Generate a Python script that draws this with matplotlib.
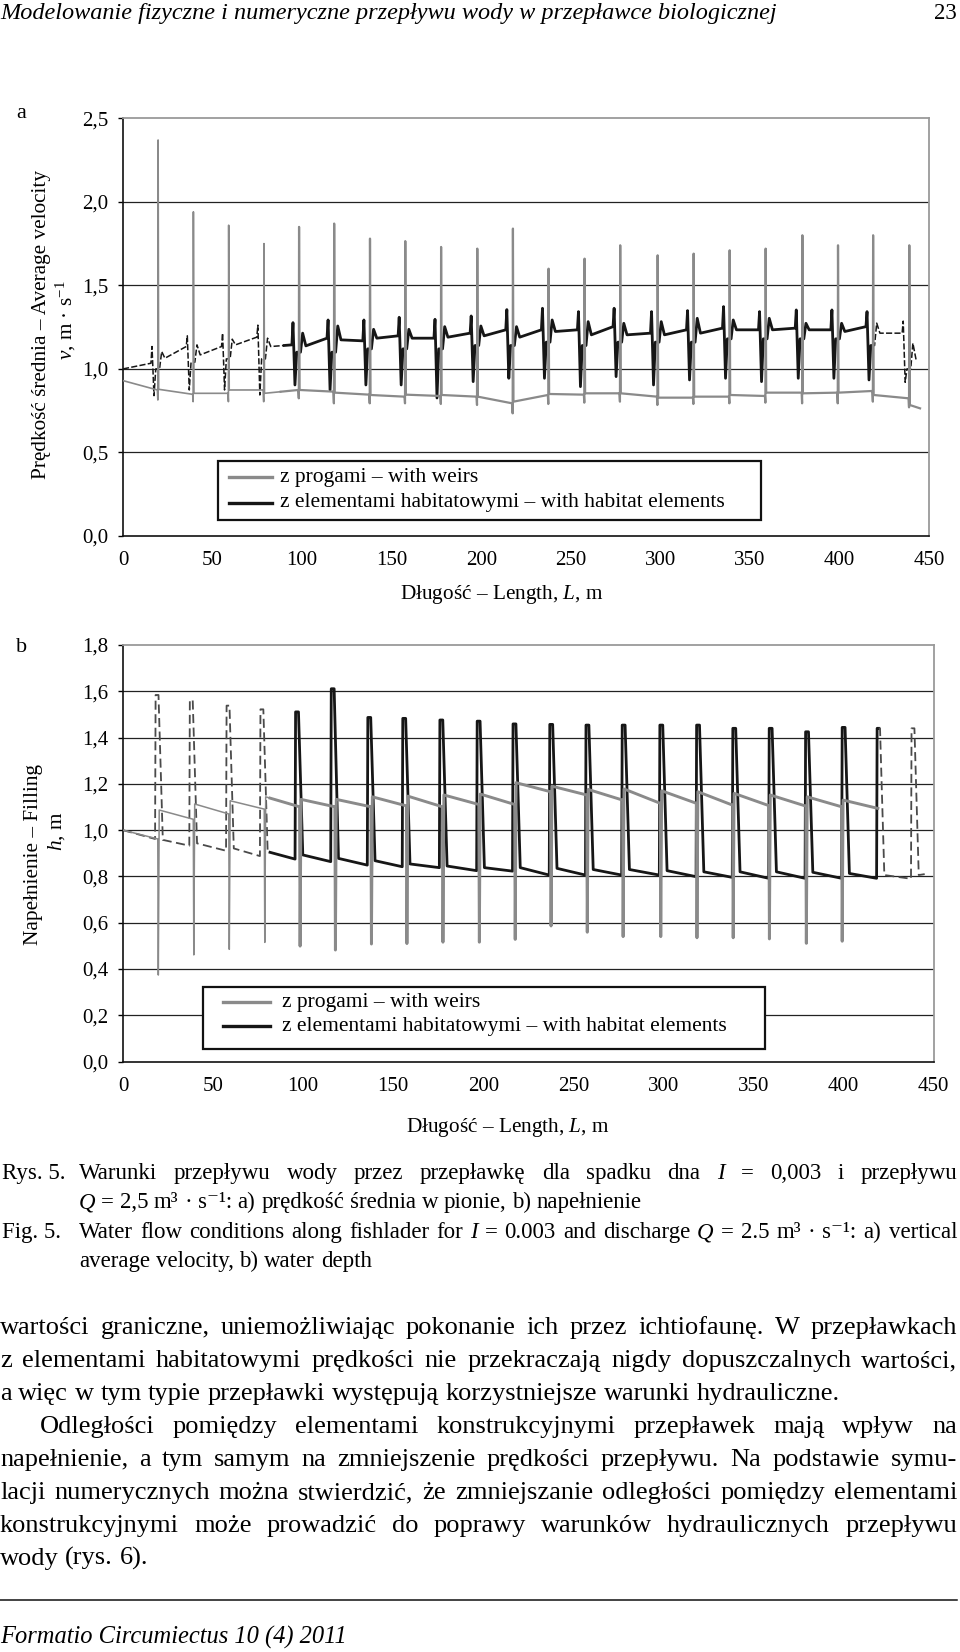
import numpy as np
import matplotlib
matplotlib.use("Agg")
import matplotlib.pyplot as plt
from matplotlib.patches import Rectangle
from matplotlib.lines import Line2D

# ---- data ----
# weir positions along the fishladder, m
weir_L = [19.6, 39.3, 59.0, 78.7, 98.3, 117.9, 137.9, 157.6, 177.6, 197.8, 217.7,
          237.6, 257.7, 277.6, 298.5, 318.6, 338.7, 358.8, 379.3, 399.2, 418.8, 439.0]

# (a) velocity, "z progami" (grey)
va_gray_start = 0.93
va_gray_pre = [0.874, 0.848, 0.854, 0.874, 0.874, 0.864, 0.846, 0.834, 0.838, 0.834, 0.794,
               0.844, 0.846, 0.854, 0.834, 0.828, 0.834, 0.838, 0.858, 0.858, 0.868, 0.824]
va_gray_min = [0.814, 0.804, 0.804, 0.804, 0.824, 0.794, 0.794, 0.794, 0.790, 0.784, 0.734,
               0.790, 0.798, 0.804, 0.784, 0.790, 0.794, 0.798, 0.794, 0.794, 0.804, 0.770]
va_gray_peak = [2.37, 1.94, 1.86, 1.75, 1.85, 1.87, 1.78, 1.765, 1.73, 1.72, 1.84,
                1.60, 1.66, 1.74, 1.68, 1.69, 1.71, 1.72, 1.80, 1.74, 1.80, 1.74]
va_gray_post = [0.878, 0.854, 0.874, 0.854, 0.874, 0.858, 0.844, 0.846, 0.844, 0.834, 0.804,
                0.850, 0.854, 0.854, 0.828, 0.834, 0.844, 0.858, 0.854, 0.858, 0.844, 0.784]
va_gray_end = (445.0, 0.764)

# (a) velocity, "z elementami habitatowymi" (black)
va_black_start = 1.0
va_black_pre = [1.034, 1.134, 1.134, 1.190, 1.144, 1.184, 1.168, 1.198, 1.184, 1.214, 1.234,
                1.234, 1.234, 1.253, 1.214, 1.234, 1.244, 1.234, 1.244, 1.234, 1.253, 1.214]
va_black_peak = [1.134, 1.198, 1.214, 1.262, 1.277, 1.293, 1.293, 1.309, 1.297, 1.317, 1.355,
                 1.363, 1.343, 1.363, 1.343, 1.349, 1.373, 1.343, 1.353, 1.353, 1.343, 1.286]
va_black_trough = [0.84, 0.874, 0.874, 0.844, 0.904, 0.874, 0.904, 0.904, 0.826, 0.924, 0.944,
                   0.944, 0.894, 0.954, 0.904, 0.934, 0.944, 0.924, 0.944, 0.944, 0.934, 0.92]
va_black_rec = [1.00, 1.04, 1.06, 1.06, 1.10, 1.10, 1.12, 1.12, 1.12, 1.14, 1.14,
                1.16, 1.14, 1.16, 1.16, 1.16, 1.18, 1.18, 1.18, 1.18, 1.14, 1.00]
va_black_bump = [1.104, 1.144, 1.178, 1.184, 1.214, 1.257, 1.237, 1.237, 1.253, 1.257, 1.253,
                 1.293, 1.283, 1.273, 1.283, 1.303, 1.293, 1.303, 1.273, 1.273, 1.274, 1.154]
va_black_post = [1.064, 1.084, 1.144, 1.134, 1.138, 1.174, 1.184, 1.184, 1.190, 1.198, 1.190,
                 1.224, 1.204, 1.204, 1.204, 1.214, 1.234, 1.234, 1.234, 1.224, 1.214, 1.054]

# (b) depth, "z progami" (grey) - spikes at the first 20 weirs
hb_gray_start = 1.0
hb_gray_pre = [0.962, 1.047, 1.070, 1.091, 1.101, 1.101, 1.101, 1.105, 1.101, 1.111,
               1.111, 1.166, 1.152, 1.130, 1.116, 1.116, 1.108, 1.106, 1.104, 1.101]
hb_gray_min = [0.374, 0.461, 0.485, 0.515, 0.499, 0.482, 0.508, 0.510, 0.516, 0.516,
               0.528, 0.586, 0.559, 0.540, 0.540, 0.535, 0.535, 0.530, 0.511, 0.520]
hb_gray_post = [1.087, 1.113, 1.127, 1.144, 1.133, 1.133, 1.144, 1.147, 1.152, 1.156,
                1.205, 1.190, 1.176, 1.178, 1.170, 1.166, 1.159, 1.152, 1.144, 1.130]
hb_gray_end = (419.0, 1.094)

# (b) depth, "z elementami habitatowymi" (black)
hb_black_start = 1.0
hb_black_rise = [17.8, 36.8, 57.2, 76.0, 95.5, 115.3, 135.6, 155.0, 175.6, 196.3, 216.2,
                 236.6, 256.7, 276.8, 297.7, 318.1, 338.2, 358.4, 378.6, 398.9, 418.3, 437.4]
hb_black_pre = [0.962, 0.933, 0.911, 0.888, 0.875, 0.864, 0.849, 0.842, 0.838, 0.825, 0.823,
                0.806, 0.806, 0.806, 0.806, 0.799, 0.796, 0.792, 0.792, 0.792, 0.792, 0.790]
hb_black_peak = [1.584, 1.562, 1.538, 1.522, 1.511, 1.611, 1.487, 1.483, 1.476, 1.471, 1.459,
                 1.457, 1.454, 1.454, 1.454, 1.454, 1.440, 1.440, 1.425, 1.444, 1.440, 1.440]
hb_black_post = [0.958, 0.943, 0.921, 0.907, 0.893, 0.878, 0.868, 0.854, 0.845, 0.838, 0.838,
                 0.835, 0.830, 0.830, 0.825, 0.820, 0.820, 0.820, 0.818, 0.813, 0.806, 0.806]
hb_black_end = (445.0, 0.81)

x_ticks = [0, 50, 100, 150, 200, 250, 300, 350, 400, 450]
x_tick_labels = ['0', '50', '100', '150', '200', '250', '300', '350', '400', '450']
ya_ticks = [0, 0.5, 1.0, 1.5, 2.0, 2.5]
ya_tick_labels = ['0,0', '0,5', '1,0', '1,5', '2,0', '2,5']
yb_ticks = [0, 0.2, 0.4, 0.6, 0.8, 1.0, 1.2, 1.4, 1.6, 1.8]
yb_tick_labels = ['0,0', '0,2', '0,4', '0,6', '0,8', '1,0', '1,2', '1,4', '1,6', '1,8']

legend_labels = ['z progami – with weirs', 'z elementami habitatowymi – with habitat elements']

header = 'Modelowanie fizyczne i numeryczne przepływu wody w przepławce biologicznej'
page_no = '23'
footer = 'Formatio Circumiectus 10 (4) 2011'
caption = [
    ('Warunki przepływu wody przez przepławkę dla spadku dna *I* = 0,003 i przepływu', True),
    ('*Q* = 2,5 m³ · s⁻¹: a) prędkość średnia w pionie, b) napełnienie', False),
    ('Water flow conditions along fishlader for *I* = 0.003 and discharge *Q* = 2.5 m³ · s⁻¹: a) vertical', True),
    ('average velocity, b) water depth', False),
]
body = [
    ('wartości graniczne, uniemożliwiając pokonanie ich przez ichtiofaunę. W przepławkach', True, 0),
    ('z elementami habitatowymi prędkości nie przekraczają nigdy dopuszczalnych wartości,', True, 0),
    ('a więc w tym typie przepławki występują korzystniejsze warunki hydrauliczne.', False, 0),
    ('Odległości pomiędzy elementami konstrukcyjnymi przepławek mają wpływ na', True, 40),
    ('napełnienie, a tym samym na zmniejszenie prędkości przepływu. Na podstawie symu-', True, 0),
    ('lacji numerycznych można stwierdzić, że zmniejszanie odległości pomiędzy elementami', True, 0),
    ('konstrukcyjnymi może prowadzić do poprawy warunków hydraulicznych przepływu', True, 0),
    ('wody (rys. 6).', False, 0),
]

# ---- build the polylines ----
gray_a_L, gray_a_v = [0.0], [va_gray_start]
for w, pre, mn, pk, post in zip(weir_L, va_gray_pre, va_gray_min, va_gray_peak, va_gray_post):
    gray_a_L += [w - 0.4, w - 0.15, w, w + 0.3]
    gray_a_v += [pre, mn, pk, post]
gray_a_L.append(va_gray_end[0]); gray_a_v.append(va_gray_end[1])

black_a_L, black_a_v = [0.0], [va_black_start]
for i, w in enumerate(weir_L):
    black_a_L += [w - 4.0, w - 3.4, w - 2.3, w - 1.3, w + 0.8, w + 2.0, w + 3.8]
    black_a_v += [va_black_pre[i], va_black_peak[i], va_black_trough[i], va_black_rec[i],
                  va_black_rec[i], va_black_bump[i], va_black_post[i]]

gray_b_L, gray_b_v = [0.0], [hb_gray_start]
for w, pre, mn, post in zip(weir_L, hb_gray_pre, hb_gray_min, hb_gray_post):
    gray_b_L += [w - 0.3, w, w + 0.5]
    gray_b_v += [pre, mn, post]
gray_b_L.append(hb_gray_end[0]); gray_b_v.append(hb_gray_end[1])

black_b_L, black_b_v = [0.0], [hb_black_start]
for r, pre, pk, post in zip(hb_black_rise, hb_black_pre, hb_black_peak, hb_black_post):
    black_b_L += [r, r + 0.3, r + 1.9, r + 4.3]
    black_b_v += [pre, pk, pk, post]
black_b_L.append(hb_black_end[0]); black_b_v.append(hb_black_end[1])


def piece(L, v, lo, hi):
    # part of a polyline between two positions along the channel
    L = np.asarray(L); v = np.asarray(v)
    lo = max(lo, L[0]); hi = min(hi, L[-1])
    m = (L > lo) & (L < hi)
    xs = np.concatenate([[lo], L[m], [hi]])
    ys = np.concatenate([[np.interp(lo, L, v)], v[m], [np.interp(hi, L, v)]])
    return xs, ys


# ---- figure ----
plt.rcParams['font.family'] = ['Liberation Serif', 'DejaVu Serif']
plt.rcParams['mathtext.fontset'] = 'custom'
plt.rcParams['mathtext.rm'] = 'Liberation Serif'
plt.rcParams['mathtext.it'] = 'Liberation Serif:italic'

W, H = 960, 1652
fig = plt.figure(figsize=(9.6, 16.52), dpi=100, facecolor='white')
renderer = fig.canvas.get_renderer()

GRAY = '#8a8a8a'
BLACK = '#161616'
TICK_SIZE = 15
LABEL_SIZE = 15.3


def fx(x):
    return x / W


def fy(y):
    return 1 - y / H


def setup_axes(ax, yticks, ylabels):
    ax.set_xlim(0, 450)
    ax.set_ylim(yticks[0], yticks[-1])
    ax.set_xticks(x_ticks)
    ax.set_xticklabels(x_tick_labels)
    ax.set_yticks(yticks)
    ax.set_yticklabels(ylabels)
    ax.tick_params(axis='x', length=0, pad=11, labelsize=TICK_SIZE)
    ax.tick_params(axis='y', length=3.6, width=1.0, direction='out', pad=7, labelsize=TICK_SIZE)
    for y in yticks[1:-1]:
        ax.axhline(y, color='#222222', lw=0.9, zorder=1)
    for s in ['left', 'bottom']:
        ax.spines[s].set_color('#111111')
        ax.spines[s].set_linewidth(1.2)
    for s in ['top', 'right']:
        ax.spines[s].set_color('#9a9a9a')
        ax.spines[s].set_linewidth(1.3)


ax_a = fig.add_axes([fx(123), fy(536), (929 - 123) / W, (536 - 118.3) / H])
setup_axes(ax_a, ya_ticks, ya_tick_labels)

# black (habitat elements): dashed - solid - dashed
xs, ys = piece(black_a_L, black_a_v, 0, 90)
ax_a.plot(xs, ys, color=BLACK, lw=1.1, ls=(0, (4, 1.5)), zorder=3)
xs, ys = piece(black_a_L, black_a_v, 90, 418)
ax_a.plot(xs, ys, color=BLACK, lw=2.0, zorder=3)
xs, ys = piece(black_a_L, black_a_v, 418, 500)
ax_a.plot(xs, ys, color=BLACK, lw=1.1, ls=(0, (4, 1.5)), zorder=3)
# grey (weirs)
xs, ys = piece(gray_a_L, gray_a_v, 0, 88)
ax_a.plot(xs, ys, color=GRAY, lw=1.2, zorder=4)
xs, ys = piece(gray_a_L, gray_a_v, 88, 500)
ax_a.plot(xs, ys, color=GRAY, lw=1.6, zorder=4)

ax_b = fig.add_axes([fx(123), fy(1061.6), (933.7 - 123) / W, (1061.6 - 645) / H])
setup_axes(ax_b, yb_ticks, yb_tick_labels)

xs, ys = piece(black_b_L, black_b_v, 0, 81.6)
ax_b.plot(xs, ys, color='#4a4a4a', lw=1.3, ls=(0, (5, 2.5)), zorder=3)
xs, ys = piece(black_b_L, black_b_v, 81.6, 419.5)
ax_b.plot(xs, ys, color=BLACK, lw=2.0, zorder=3)
xs, ys = piece(black_b_L, black_b_v, 419.5, 500)
ax_b.plot(xs, ys, color='#4a4a4a', lw=1.3, ls=(0, (5, 2.5)), zorder=3)
xs, ys = piece(gray_b_L, gray_b_v, 0, 81.6)
ax_b.plot(xs, ys, color=GRAY, lw=1.1, zorder=4)
xs, ys = piece(gray_b_L, gray_b_v, 81.6, 500)
ax_b.plot(xs, ys, color=GRAY, lw=2.1, zorder=4)


# ---- legends (boxes inside the plots) ----
def legend(x0, y0, x1, y1, lx0, lx1, ys, tx):
    fig.add_artist(Rectangle((fx(x0), fy(y1)), (x1 - x0) / W, (y1 - y0) / H,
                             transform=fig.transFigure, facecolor='white',
                             edgecolor='#111111', lw=1.6, zorder=5))
    for yy, col, lab in zip(ys, [GRAY, BLACK], legend_labels):
        fig.add_artist(Line2D([fx(lx0), fx(lx1)], [fy(yy), fy(yy)], transform=fig.transFigure,
                              color=col, lw=2.4, zorder=6))
        fig.text(fx(tx), fy(yy), lab, fontsize=15.5, ha='left', va='center', zorder=7)


legend(218, 460.5, 761, 519.5, 229, 272, [477.4, 502.7], 280)
legend(203.3, 987.3, 765, 1048.5, 223.4, 269.8, [1002.2, 1026.4], 282)

# ---- axis titles ----
fig.text(fx(501.6), fy(594.3), 'Długość – Length, $\\mathit{L}$, m', fontsize=LABEL_SIZE, ha='center', va='center')
fig.text(fx(508), fy(1127.6), 'Długość – Length, $\\mathit{L}$, m', fontsize=LABEL_SIZE, ha='center', va='center')
fig.text(fx(42), fy(324.6), 'Prędkość średnia – Average velocity', fontsize=LABEL_SIZE, rotation=90,
         ha='center', va='center')
fig.text(fx(66), fy(320), '$\\mathit{v}$, m · s$^{-1}$', fontsize=LABEL_SIZE, rotation=90, ha='center', va='center')
fig.text(fx(34), fy(854.6), 'Napełnienie – Filling', fontsize=LABEL_SIZE, rotation=90, ha='center', va='center')
fig.text(fx(57), fy(831.5), '$\\mathit{h}$, m', fontsize=LABEL_SIZE, rotation=90, ha='center', va='center')
fig.text(fx(21.5), fy(114), 'a', fontsize=16, ha='center', va='center')
fig.text(fx(21.5), fy(647), 'b', fontsize=16, ha='center', va='center')


# ---- page text ----
def word_width(word, size, style):
    t = fig.text(0, 0, word, fontsize=size, style=style)
    w = t.get_window_extent(renderer).width
    t.remove()
    return w


def put_line(text, y, x0, x1=None, size=16.5, base_style='normal'):
    items = []
    for wd in text.split(' '):
        style = base_style
        if len(wd) > 2 and wd.startswith('*') and wd.endswith('*'):
            wd, style = wd[1:-1], 'italic'
        items.append((wd, style, word_width(wd, size, style)))
    total = sum(i[2] for i in items)
    if x1 is None or len(items) < 2:
        gap = 0.25 * size * 100 / 72
    else:
        gap = (x1 - x0 - total) / (len(items) - 1)
    x = x0
    for wd, style, w in items:
        fig.text(fx(x), fy(y), wd, fontsize=size, style=style, ha='left', va='baseline')
        x += w + gap


hdr_w = word_width(header, 16, 'italic')
hdr_size = 16 * 776 / hdr_w
fig.text(fx(0), fy(19), header, fontsize=hdr_size, style='italic', ha='left', va='baseline')
fig.text(fx(957), fy(19), page_no, fontsize=16.5, ha='right', va='baseline')

cap_size = 16.5
fig.text(fx(2), fy(1179), 'Rys. 5.', fontsize=cap_size, ha='left', va='baseline')
fig.text(fx(2), fy(1238), 'Fig. 5.', fontsize=cap_size, ha='left', va='baseline')
for (txt, just), y in zip(caption, [1179, 1208, 1238, 1267]):
    put_line(txt, y, 79, 957 if just else None, size=cap_size)

for i, (txt, just, indent) in enumerate(body):
    put_line(txt, 1334 + 33.0 * i, indent, 957 if just else None, size=19)

fig.add_artist(Line2D([fx(0), fx(957)], [fy(1599.5), fy(1599.5)], transform=fig.transFigure,
                      color='#111111', lw=1.1))
ft_w = word_width(footer, 16, 'italic')
fig.text(fx(0), fy(1644), footer, fontsize=16 * 348 / ft_w, style='italic', ha='left', va='baseline')

fig.savefig('out.png', dpi=100, facecolor='white')
